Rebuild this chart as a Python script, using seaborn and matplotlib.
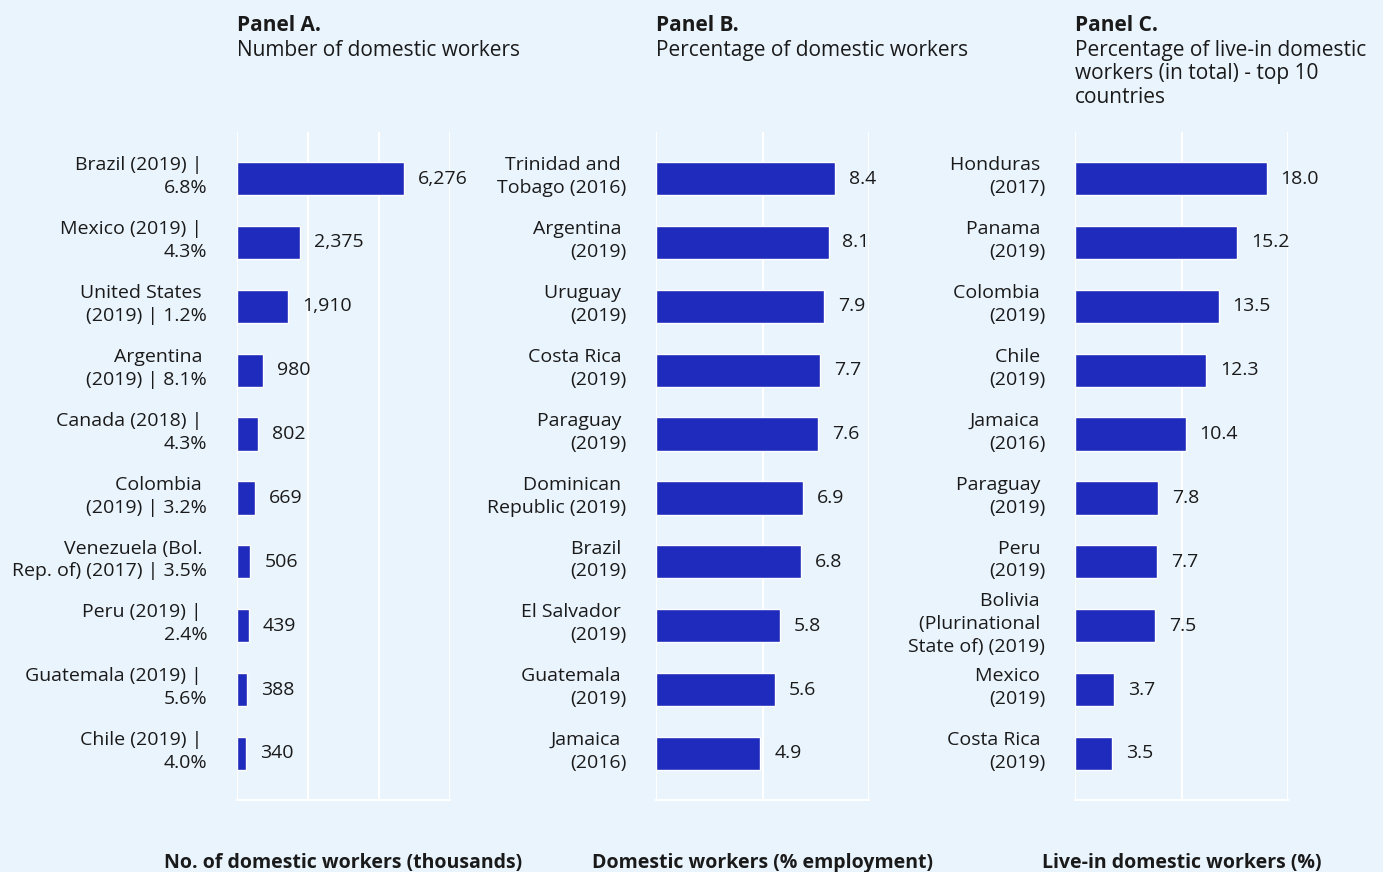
import matplotlib
matplotlib.use("Agg")
import matplotlib.pyplot as plt
import matplotlib.transforms as mtransforms
import seaborn as sns
import numpy as np
import pandas as pd

# --- Data ---
labels_a = [
    "Brazil (2019) | \n6.8%", "Mexico (2019) | \n4.3%", "United States \n(2019) | 1.2%",
    "Argentina \n(2019) | 8.1%", "Canada (2018) | \n4.3%", "Colombia \n(2019) | 3.2%",
    "Venezuela (Bol. \nRep. of) (2017) | 3.5%", "Peru (2019) | \n2.4%",
    "Guatemala (2019) | \n5.6%", "Chile (2019) | \n4.0%",
]
values_a = [6276, 2375, 1910, 980, 802, 669, 506, 439, 388, 340]

labels_b = [
    "Trinidad and \nTobago (2016)", "Argentina \n(2019)", "Uruguay \n(2019)",
    "Costa Rica \n(2019)", "Paraguay \n(2019)", "Dominican \nRepublic (2019)",
    "Brazil \n(2019)", "El Salvador \n(2019)", "Guatemala \n(2019)", "Jamaica \n(2016)",
]
values_b = [8.4, 8.1, 7.9, 7.7, 7.6, 6.9, 6.8, 5.8, 5.6, 4.9]

labels_c = [
    "Honduras \n(2017)", "Panama \n(2019)", "Colombia \n(2019)", "Chile \n(2019)",
    "Jamaica \n(2016)", "Paraguay \n(2019)", "Peru \n(2019)",
    "Bolivia \n(Plurinational \nState of) (2019)", "Mexico \n(2019)", "Costa Rica \n(2019)",
]
values_c = [18.0, 15.2, 13.5, 12.3, 10.4, 7.8, 7.7, 7.5, 3.7, 3.5]

titles = ["Panel A.", "Panel B.", "Panel C."]
subtitles = [
    "Number of domestic workers",
    "Percentage of domestic workers",
    "Percentage of live-in domestic\nworkers (in total) - top 10\ncountries",
]
xlabels = [
    "No. of domestic workers (thousands)",
    "Domestic workers (% employment)",
    "Live-in domestic workers (%)",
]

# --- Style ---
BG = "#eaf4fd"
BAR = "#1e2bbd"
TXT = "#1a1a1a"
W, H = 1383, 872

sns.set_theme(style="white")
plt.rcParams["font.family"] = ["Open Sans", "Noto Sans", "DejaVu Sans"]
plt.rcParams["text.color"] = TXT

fig = plt.figure(figsize=(W / 100, H / 100), dpi=100)
fig.patch.set_facecolor(BG)

panels = [
    (labels_a, values_a, 237, (0, 8000), np.linspace(0, 8000, 4), lambda v: f"{v:,.0f}"),
    (labels_b, values_b, 656, (0, 10), [0, 5, 10], lambda v: f"{v:.1f}"),
    (labels_c, values_c, 1075, (0, 20), [0, 10, 20], lambda v: f"{v:.1f}"),
]

ax_w = 213 / W
ax_b = (H - 800) / H
ax_h = 668 / H
lift = mtransforms.ScaledTranslation(0, 4.5 / 72, fig.dpi_scale_trans)

for i, (labels, values, left_px, xlim, ticks, fmt) in enumerate(panels):
    ax = fig.add_axes([left_px / W, ax_b, ax_w, ax_h])
    ax.set_facecolor(BG)
    df = pd.DataFrame({"label": labels, "value": values})
    sns.barplot(data=df, x="value", y="label", orient="h", color=BAR,
                saturation=1, width=0.52, ax=ax)
    ax.set_xlim(*xlim)
    ax.set_ylim(9.73, -0.73)
    ax.set_xticks(ticks)
    ax.set_xticklabels([])
    ax.tick_params(axis="both", length=0)
    ax.tick_params(axis="y", pad=21.5, labelsize=14, labelcolor=TXT)
    for t in ax.get_yticklabels():
        t.set_linespacing(1.35)
        t.set_transform(t.get_transform() + lift)
    ax.grid(axis="x", color="white", linewidth=1.5)
    ax.set_axisbelow(True)
    for s in ["top", "right", "left"]:
        ax.spines[s].set_visible(False)
    ax.spines["bottom"].set_color("white")
    ax.spines["bottom"].set_linewidth(1.5)
    ax.set_ylabel("")
    ax.set_xlabel(xlabels[i], fontsize=14, fontweight="bold", labelpad=35, color=TXT)

    # value labels
    for j, v in enumerate(values):
        ax.annotate(fmt(v), xy=(v, j), xytext=(10, 0), textcoords="offset points",
                    ha="left", va="center", fontsize=14, color=TXT)

    fig.text(left_px / W, 1 - 15 / H, titles[i], fontsize=15, fontweight="bold",
             va="top", ha="left", color=TXT)
    fig.text(left_px / W, 1 - 40 / H, subtitles[i], fontsize=15, va="top", ha="left",
             color=TXT, linespacing=1.15)

fig.savefig("out.png", dpi=100, facecolor=BG)
